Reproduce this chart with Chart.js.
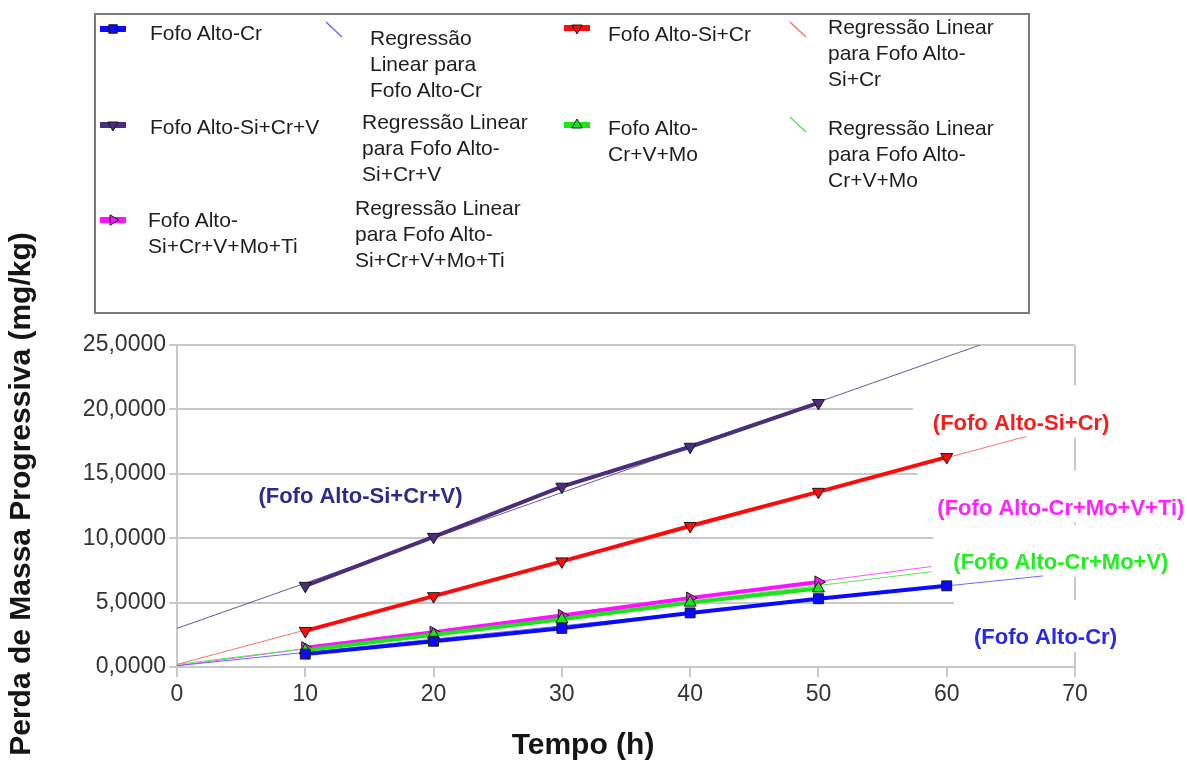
<!DOCTYPE html>
<html><head><meta charset="utf-8">
<script src="https://cdn.jsdelivr.net/npm/chart.js@4.4.0/dist/chart.umd.min.js"></script>
<style>
html,body{margin:0;padding:0;background:#fff;width:1187px;height:762px;overflow:hidden;font-family:'Liberation Sans',Arial,sans-serif;}
#wrap{position:relative;width:1187px;height:762px;}
#c{position:absolute;left:0;top:0;}
#legendBox{position:absolute;left:94px;top:13px;width:936px;height:301px;border:2px solid #7a7a7a;box-sizing:border-box;}
.lt{position:absolute;font-size:21px;line-height:26px;color:#1e1e1e;}
.ic{position:absolute;}
</style></head><body>
<div id="wrap"><canvas id="c" width="1187" height="762"></canvas><div id="legendBox"></div></div>
<script>
// ---- data ----
const tempo = [10, 20, 30, 40, 50, 60];
const perdaAltoCr      = [1.0, 2.0, 3.0, 4.2, 5.3, 6.3];
const perdaAltoSiCr    = [2.8, 5.5, 8.2, 10.95, 13.6, 16.3];
const perdaAltoSiCrV   = [6.3, 10.1, 14.0, 17.1, 20.5];
const perdaAltoCrVMo   = [1.3, 2.5, 3.7, 5.0, 6.1];
const perdaAltoSiCrVMoTi = [1.5, 2.7, 4.0, 5.35, 6.6];

// regression lines: start / end points
const regAltoCrX = [0, 67.5],     regAltoCrY = [0.1, 7.07];
const regAltoSiCrX = [0, 66.2],   regAltoSiCrY = [0.2, 17.9];
const regAltoSiCrVX = [0, 62.6],  regAltoSiCrVY = [3.0, 25.0];
const regAltoCrVMoX = [0, 58.8],  regAltoCrVMoY = [0.2, 7.4];
const regAltoTiX = [0, 58.8],     regAltoTiY = [0.1, 7.8];

const seriesNames = ['Fofo Alto-Cr', 'Fofo Alto-Si+Cr', 'Fofo Alto-Si+Cr+V', 'Fofo Alto-Cr+V+Mo', 'Fofo Alto-Si+Cr+V+Mo+Ti'];
const regPrefix = 'Regressão Linear para ';
const yTicks = [0, 5, 10, 15, 20, 25];
const xTicks = [0, 10, 20, 30, 40, 50, 60, 70];
const plotLabels = ['(Fofo Alto-Si+Cr+V)', '(Fofo Alto-Si+Cr)', '(Fofo Alto-Cr+Mo+V+Ti)', '(Fofo Alto-Cr+Mo+V)', '(Fofo Alto-Cr)'];
const xTitle = 'Tempo (h)';
const yTitle = 'Perda de Massa Progressiva (mg/kg)';

// ---- styles ----
const colors = ['#0a0aff', '#ff0a0a', '#4a2d7c', '#19e619', '#ff10ff'];
const regColors = ['#6a6aff', '#ff7070', '#6a5898', '#55e855', '#ff50ff'];
const pStyle = ['rect', 'triangle', 'triangle', 'triangle', 'triangle'];
const pRot = [0, 180, 180, 0, 90];
const labelColors = ['#2b2b8c', '#ff1a1a', '#ff22ff', '#22ee22', '#2a2ae6'];
// label anchors in data units + whether a white box sits behind
const labelPos = [
  {x: 14.3, y: 13.2, box: false},
  {x: 65.8, y: 18.9, box: true},
  {x: 68.9, y: 12.3, box: true},
  {x: 68.9, y: 8.1, box: true},
  {x: 67.7, y: 2.25, box: true}
];
const FONT = "'Liberation Sans', Arial, sans-serif";

const allData = [perdaAltoCr, perdaAltoSiCr, perdaAltoSiCrV, perdaAltoCrVMo, perdaAltoSiCrVMoTi];
const regX = [regAltoCrX, regAltoSiCrX, regAltoSiCrVX, regAltoCrVMoX, regAltoTiX];
const regY = [regAltoCrY, regAltoSiCrY, regAltoSiCrVY, regAltoCrVMoY, regAltoTiY];

const datasets = [];
allData.forEach((arr, i) => {
  datasets.push({
    label: seriesNames[i],
    data: arr.map((v, k) => ({x: tempo[k], y: v})),
    borderColor: colors[i], backgroundColor: colors[i],
    borderWidth: 4, pointStyle: pStyle[i], pointRotation: pRot[i],
    pointRadius: 7, pointBorderColor: '#1a1a1a', pointBorderWidth: 1,
    pointBackgroundColor: colors[i], showLine: true, tension: 0
  });
});
regX.forEach((xs, i) => {
  datasets.push({
    label: regPrefix + seriesNames[i],
    data: xs.map((x, k) => ({x: x, y: regY[i][k]})),
    borderColor: regColors[i], borderWidth: 1, pointRadius: 0, showLine: true, tension: 0
  });
});

const boxPlugin = {
  id: 'labelBoxes',
  beforeDatasetsDraw(chart) {
    const ctx = chart.ctx, xs = chart.scales.x, ys = chart.scales.y;
    ctx.save();
    ctx.font = 'bold 22px ' + FONT;
    ctx.fillStyle = '#ffffff';
    labelPos.forEach((p, i) => {
      if (!p.box) return;
      const cx = xs.getPixelForValue(p.x), cy = ys.getPixelForValue(p.y);
      const w = ctx.measureText(plotLabels[i]).width;
      ctx.fillRect(cx - w / 2 - 20, cy - 38, w + 28, 52);
    });
    ctx.restore();
  },
  afterDraw(chart) {
    const ctx = chart.ctx, xs = chart.scales.x, ys = chart.scales.y;
    ctx.save();
    ctx.font = 'bold 22px ' + FONT;
    ctx.textAlign = 'center'; ctx.textBaseline = 'middle';
    labelPos.forEach((p, i) => {
      ctx.fillStyle = labelColors[i];
      ctx.fillText(plotLabels[i], xs.getPixelForValue(p.x), ys.getPixelForValue(p.y));
    });
    // axis titles
    ctx.fillStyle = '#151515';
    ctx.font = 'bold 30px ' + FONT;
    ctx.fillText(xTitle, 583, 746);
    ctx.translate(22, 494);
    ctx.rotate(-Math.PI / 2);
    ctx.fillText(yTitle, 0, 0);
    ctx.restore();
  }
};

const chart = new Chart(document.getElementById('c'), {
  type: 'scatter',
  data: {datasets},
  options: {
    responsive: false, animation: false, devicePixelRatio: 1,
    layout: {padding: {top: 345, right: 112, left: 0, bottom: 0}},
    plugins: {legend: {display: false}, tooltip: {enabled: false}},
    scales: {
      x: {
        type: 'linear', min: 0, max: 70,
        afterFit(s) { s.height = 95; },
        afterBuildTicks(s) { s.ticks = xTicks.map(v => ({value: v})); },
        grid: {
          color: c => (c.tick && c.tick.value === 70) ? '#c8c8c8' : 'rgba(0,0,0,0)',
          lineWidth: 2, tickColor: '#c8c8c8', tickLength: 10, drawTicks: true
        },
        border: {display: true, color: '#c8c8c8', width: 2},
        ticks: {color: '#333', font: {family: FONT, size: 23}, padding: 4}
      },
      y: {
        type: 'linear', min: 0, max: 25,
        afterFit(s) { s.width = 177; },
        afterBuildTicks(s) { s.ticks = yTicks.map(v => ({value: v})); },
        grid: {color: '#c8c8c8', lineWidth: 2, tickColor: '#c8c8c8', tickLength: 8},
        border: {display: true, color: '#c8c8c8', width: 2},
        ticks: {
          color: '#333', font: {family: FONT, size: 23}, padding: 3,
          callback: v => v.toFixed(4).replace('.', ',')
        }
      }
    }
  },
  plugins: [boxPlugin]
});

// ---- legend (HTML, built from the series names) ----
const legendLayout = [
  {s: 0, reg: false, ix: 113, iy: 29, tx: 150, ty: 20, w: 200},
  {s: 0, reg: true,  ix: 334, iy: 30, tx: 370, ty: 25, w: 130},
  {s: 1, reg: false, ix: 577, iy: 28, tx: 608, ty: 21, w: 170},
  {s: 1, reg: true,  ix: 798, iy: 30, tx: 828, ty: 14, w: 180},
  {s: 2, reg: false, ix: 113, iy: 125, tx: 150, ty: 114, w: 200},
  {s: 2, reg: true,  ix: null, iy: null, tx: 362, ty: 109, w: 180},
  {s: 3, reg: false, ix: 577, iy: 125, tx: 608, ty: 115, w: 130},
  {s: 3, reg: true,  ix: 798, iy: 125, tx: 828, ty: 115, w: 180},
  {s: 4, reg: false, ix: 113, iy: 220, tx: 148, ty: 207, w: 160},
  {s: 4, reg: true,  ix: null, iy: null, tx: 355, ty: 195, w: 180}
];
const wrap = document.getElementById('wrap');
legendLayout.forEach(L => {
  const t = document.createElement('div');
  t.className = 'lt';
  t.style.left = L.tx + 'px'; t.style.top = L.ty + 'px'; t.style.width = L.w + 'px';
  t.textContent = L.reg ? regPrefix + seriesNames[L.s] : seriesNames[L.s];
  wrap.appendChild(t);
  if (L.ix === null) return;
  const cv = document.createElement('canvas');
  cv.width = 32; cv.height = 20; cv.className = 'ic';
  cv.style.left = (L.ix - 16) + 'px'; cv.style.top = (L.iy - 10) + 'px';
  wrap.appendChild(cv);
  const g = cv.getContext('2d');
  if (L.reg) {
    g.strokeStyle = regColors[L.s]; g.lineWidth = 1.5;
    g.beginPath(); g.moveTo(8, 2); g.lineTo(24, 17); g.stroke();
  } else {
    g.fillStyle = colors[L.s];
    g.fillRect(3, 7, 26, 6);
    g.strokeStyle = '#1a1a1a'; g.lineWidth = 1;
    Chart.helpers.drawPoint(g, {pointStyle: pStyle[L.s], rotation: pRot[L.s], radius: 6, borderWidth: 1}, 16, 10);
  }
});
</script>
</body></html>
